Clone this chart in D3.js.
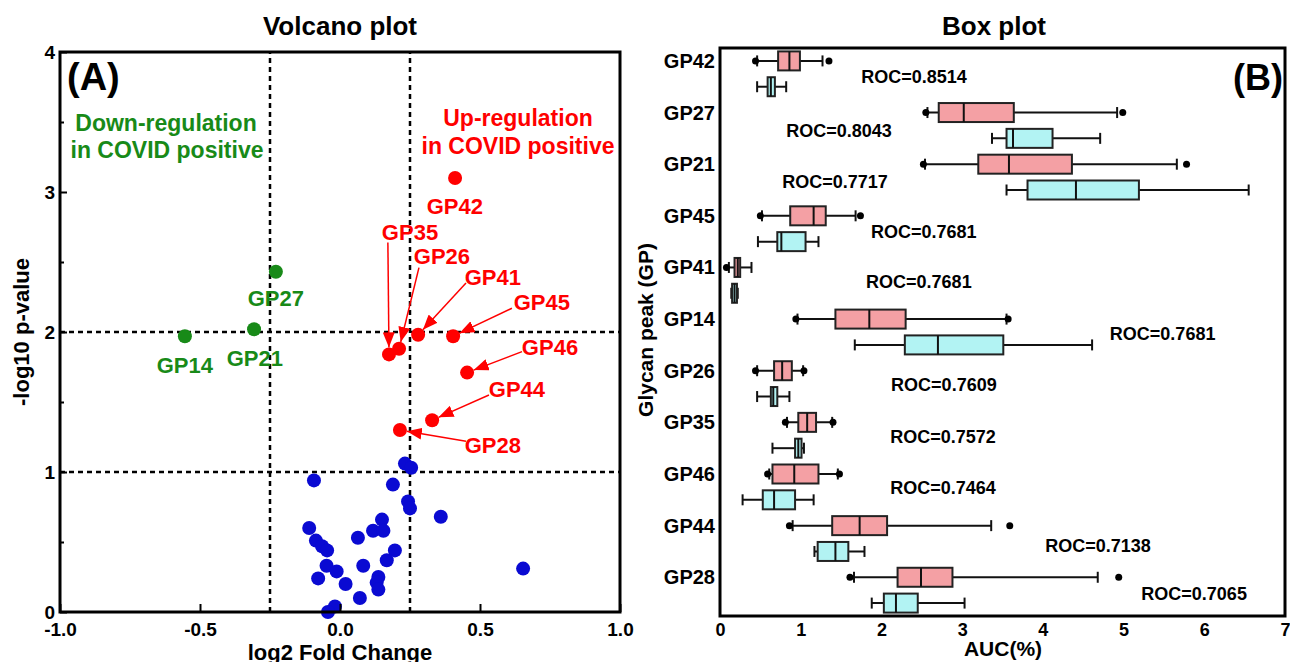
<!DOCTYPE html>
<html>
<head>
<meta charset="utf-8">
<script src="https://cdn.jsdelivr.net/npm/d3@7"></script>
<style>
  body { margin: 0; background: #fff; }
  svg text { font-family: "Liberation Sans", Arial, sans-serif; font-weight: bold; }
</style>
</head>
<body>
<svg id="chart" width="1290" height="662"></svg>
<script>
// ---- volcano plot data ----
const upPeaks = ["GP42", "GP35", "GP26", "GP41", "GP45", "GP46", "GP44", "GP28"];
const upFold  = [0.411, 0.175, 0.211, 0.279, 0.404, 0.454, 0.329, 0.214];
const upLogP  = [3.10, 1.84, 1.88, 1.98, 1.97, 1.71, 1.37, 1.30];

const downPeaks = ["GP27", "GP21", "GP14"];
const downFold  = [-0.229, -0.307, -0.554];
const downLogP  = [2.43, 2.02, 1.97];

const otherFold = [0.232, 0.254, -0.093, 0.189, 0.243, 0.250, 0.360, -0.110, 0.150, 0.118,
                   0.155, 0.064, -0.086, -0.064, -0.046, 0.196, 0.167, -0.048, 0.083, -0.012,
                   -0.078, 0.137, 0.131, 0.137, 0.020, 0.071, -0.018, -0.043, 0.654];
const otherLogP = [1.06, 1.03, 0.94, 0.91, 0.79, 0.74, 0.68, 0.60, 0.66, 0.58,
                   0.58, 0.53, 0.51, 0.47, 0.44, 0.44, 0.37, 0.33, 0.33, 0.29,
                   0.24, 0.25, 0.21, 0.16, 0.20, 0.10, 0.04, 0.00, 0.31];

const foldCut = [-0.25, 0.25];
const pCut = [1, 2];

// where the peak names sit (in data units), and where their arrows start
const upLabelX   = [0.410, 0.250, 0.364, 0.546, 0.721, 0.750, 0.632, 0.546];
const upLabelY   = [2.90, 2.71, 2.54, 2.39, 2.21, 1.89, 1.59, 1.19];
const arrowFromX = [null, 0.171, 0.282, 0.450, 0.614, 0.650, 0.532, 0.450];
const arrowFromY = [null, 2.64, 2.46, 2.35, 2.17, 1.86, 1.55, 1.22];
const downLabelX = [-0.229, -0.304, -0.554];
const downLabelY = [2.24, 1.81, 1.76];

// ---- box plot data (AUC %) : [min, q1, median, q3, max] ----
const peaks = ["GP42", "GP27", "GP21", "GP45", "GP41", "GP14", "GP26", "GP35", "GP46", "GP44", "GP28"];
const posStats = [
  [0.46, 0.72, 0.86, 0.99, 1.27],
  [2.57, 2.71, 3.02, 3.64, 4.92],
  [2.54, 3.20, 3.58, 4.36, 5.66],
  [0.52, 0.87, 1.16, 1.31, 1.68],
  [0.11, 0.18, 0.22, 0.25, 0.39],
  [0.96, 1.43, 1.85, 2.30, 3.55],
  [0.46, 0.67, 0.77, 0.89, 1.03],
  [0.83, 0.97, 1.08, 1.19, 1.39],
  [0.61, 0.65, 0.92, 1.22, 1.46],
  [0.90, 1.39, 1.73, 2.07, 3.36],
  [1.66, 2.20, 2.49, 2.88, 4.68]
];
const posOutliers = [[0.44, 1.35], [2.55, 4.99], [2.52, 5.78], [0.50, 1.74], [0.08], [0.94, 3.57],
                     [0.44, 1.04], [0.81, 1.40], [0.59, 1.48], [0.86, 3.59], [1.61, 4.94]];
const negStats = [
  [0.46, 0.59, 0.63, 0.68, 0.82],
  [3.37, 3.55, 3.63, 4.12, 4.71],
  [3.55, 3.81, 4.41, 5.19, 6.55],
  [0.47, 0.71, 0.76, 1.06, 1.22],
  [0.14, 0.15, 0.18, 0.21, 0.22],
  [1.67, 2.29, 2.70, 3.51, 4.61],
  [0.46, 0.63, 0.66, 0.71, 0.86],
  [0.65, 0.93, 0.97, 1.01, 1.04],
  [0.28, 0.53, 0.67, 0.93, 1.16],
  [1.17, 1.21, 1.43, 1.59, 1.79],
  [1.88, 2.03, 2.18, 2.45, 3.03]
];
const roc = [0.8514, 0.8043, 0.7717, 0.7681, 0.7681, 0.7681, 0.7609, 0.7572, 0.7464, 0.7138, 0.7065];
// ROC label spots: left edge in AUC units, fraction down the category band
const rocLabelX = [1.75, 0.82, 0.77, 1.87, 1.81, 4.83, 2.12, 2.11, 2.11, 4.03, 5.22];
const rocLabelY = [0.57, 0.61, 0.60, 0.57, 0.54, 0.54, 0.53, 0.54, 0.53, 0.65, 0.58];

const RED = "#ff0000", GREEN = "#188a18", BLUE = "#0a0ad2";
const PINK = "#f4a0a4", CYAN = "#b2f3f3";

const svg = d3.select("#chart");

// =================== (A) volcano ===================
const x = d3.scaleLinear().domain([-1, 1]).range([60, 620]);
const y = d3.scaleLinear().domain([0, 4]).range([612, 52]);

svg.append("defs").append("marker")
   .attr("id", "head")
   .attr("markerUnits", "userSpaceOnUse")
   .attr("markerWidth", 15).attr("markerHeight", 12)
   .attr("refX", 15).attr("refY", 6)
   .attr("orient", "auto")
   .append("path").attr("d", "M0,0L15,6L0,12Z").attr("fill", RED);

const va = svg.append("g");

foldCut.forEach(v => {
  va.append("line")
    .attr("x1", x(v)).attr("x2", x(v)).attr("y1", y(0)).attr("y2", y(4))
    .attr("stroke", "#000").attr("stroke-width", 2.5).attr("stroke-dasharray", "5,4");
});
pCut.forEach(v => {
  va.append("line")
    .attr("x1", x(-1)).attr("x2", x(1)).attr("y1", y(v)).attr("y2", y(v))
    .attr("stroke", "#000").attr("stroke-width", 2.5).attr("stroke-dasharray", "5,4");
});

va.append("g").selectAll("circle").data(otherFold).join("circle")
  .attr("cx", d => x(d)).attr("cy", (d, i) => y(otherLogP[i]))
  .attr("r", 7).attr("fill", BLUE);

va.append("g").selectAll("circle").data(downFold).join("circle")
  .attr("cx", d => x(d)).attr("cy", (d, i) => y(downLogP[i]))
  .attr("r", 7).attr("fill", GREEN);

va.append("g").selectAll("circle").data(upFold).join("circle")
  .attr("cx", d => x(d)).attr("cy", (d, i) => y(upLogP[i]))
  .attr("r", 7).attr("fill", RED);

// arrows from the labels to their points
upPeaks.forEach((p, i) => {
  if (arrowFromX[i] === null) return;
  const x0 = x(arrowFromX[i]), y0 = y(arrowFromY[i]);
  const x1 = x(upFold[i]), y1 = y(upLogP[i]);
  const len = Math.hypot(x1 - x0, y1 - y0);
  va.append("line")
    .attr("x1", x0).attr("y1", y0)
    .attr("x2", x1 - (x1 - x0) / len * 7).attr("y2", y1 - (y1 - y0) / len * 7)
    .attr("stroke", RED).attr("stroke-width", 1.5)
    .attr("marker-end", "url(#head)");
});

va.append("g").selectAll("text").data(upPeaks).join("text")
  .attr("x", (d, i) => x(upLabelX[i])).attr("y", (d, i) => y(upLabelY[i]))
  .attr("text-anchor", "middle").attr("dominant-baseline", "central")
  .attr("font-size", 22).attr("fill", RED).text(d => d);

va.append("g").selectAll("text").data(downPeaks).join("text")
  .attr("x", (d, i) => x(downLabelX[i])).attr("y", (d, i) => y(downLabelY[i]))
  .attr("text-anchor", "middle").attr("dominant-baseline", "central")
  .attr("font-size", 22).attr("fill", GREEN).text(d => d);

// axes, ticks pointing inward
const vx = va.append("g").attr("transform", `translate(0,${y(0)})`)
  .call(d3.axisBottom(x).tickValues([-1, -0.5, 0, 0.5, 1]).tickFormat(d => d.toFixed(1))
          .tickSize(-8).tickPadding(11));
const vy = va.append("g").attr("transform", `translate(${x(-1)},0)`)
  .call(d3.axisLeft(y).tickValues([0, 1, 2, 3, 4]).tickFormat(d3.format("d"))
          .tickSize(-7).tickPadding(5));
va.append("g").attr("transform", `translate(${x(-1)},0)`)
  .call(d3.axisLeft(y).tickValues([0.5, 1.5, 2.5, 3.5]).tickFormat("").tickSize(-4));

va.append("rect")
  .attr("x", x(-1)).attr("y", y(4)).attr("width", x(1) - x(-1)).attr("height", y(0) - y(4))
  .attr("fill", "none").attr("stroke", "#000").attr("stroke-width", 3);

va.append("text").attr("x", 340).attr("y", 35).attr("text-anchor", "middle")
  .attr("font-size", 26).text("Volcano plot");
va.append("text").attr("x", 67).attr("y", 90).attr("font-size", 38).text("(A)");
va.append("text").attr("x", 166).attr("y", 131).attr("text-anchor", "middle")
  .attr("font-size", 23).attr("fill", GREEN).text("Down-regulation");
va.append("text").attr("x", 167).attr("y", 158).attr("text-anchor", "middle")
  .attr("font-size", 23).attr("fill", GREEN).text("in COVID positive");
va.append("text").attr("x", 518).attr("y", 126).attr("text-anchor", "middle")
  .attr("font-size", 23).attr("fill", RED).text("Up-regulation");
va.append("text").attr("x", 518).attr("y", 154).attr("text-anchor", "middle")
  .attr("font-size", 23).attr("fill", RED).text("in COVID positive");
va.append("text").attr("x", 340).attr("y", 660).attr("text-anchor", "middle")
  .attr("font-size", 22).text("log2 Fold Change");
va.append("text").attr("transform", "translate(21,332) rotate(-90)")
  .attr("text-anchor", "middle").attr("dominant-baseline", "central")
  .attr("font-size", 22).text("-log10 p-value");

// =================== (B) box plot ===================
const bx = d3.scaleLinear().domain([0, 7]).range([720, 1285]);
const band = d3.scaleBand().domain(peaks).range([48, 616]);
const sub = d3.scalePoint().domain(["pos", "neg"]).range([0, band.step()]).padding(0.5);
const BOX_H = 19, CAP_H = 11;

const vb = svg.append("g");

const drawBox = (stats, yc, fill) => {
  const g = vb.append("g");
  g.append("line").attr("x1", bx(stats[0])).attr("x2", bx(stats[4]))
    .attr("y1", yc).attr("y2", yc).attr("stroke", "#111").attr("stroke-width", 2);
  [stats[0], stats[4]].forEach(v => {
    g.append("line").attr("x1", bx(v)).attr("x2", bx(v))
      .attr("y1", yc - CAP_H / 2).attr("y2", yc + CAP_H / 2)
      .attr("stroke", "#111").attr("stroke-width", 2);
  });
  g.append("rect").attr("x", bx(stats[1])).attr("y", yc - BOX_H / 2)
    .attr("width", bx(stats[3]) - bx(stats[1])).attr("height", BOX_H)
    .attr("fill", fill).attr("stroke", "#222").attr("stroke-width", 2);
  g.append("line").attr("x1", bx(stats[2])).attr("x2", bx(stats[2]))
    .attr("y1", yc - BOX_H / 2).attr("y2", yc + BOX_H / 2)
    .attr("stroke", "#111").attr("stroke-width", 2);
};

peaks.forEach((p, i) => {
  const yPos = band(p) + sub("pos");
  const yNeg = band(p) + sub("neg");
  drawBox(posStats[i], yPos, PINK);
  drawBox(negStats[i], yNeg, CYAN);
  posOutliers[i].forEach(v => {
    vb.append("circle").attr("cx", bx(v)).attr("cy", yPos).attr("r", 3.5).attr("fill", "#000");
  });
});

vb.append("g").selectAll("text").data(peaks).join("text")
  .attr("x", 715).attr("y", d => band(d) + sub("pos"))
  .attr("text-anchor", "end").attr("dominant-baseline", "central")
  .attr("font-size", 20).text(d => d);

vb.append("g").selectAll("text").data(roc).join("text")
  .attr("x", (d, i) => bx(rocLabelX[i]))
  .attr("y", (d, i) => band(peaks[i]) + band.step() * rocLabelY[i])
  .attr("dominant-baseline", "central")
  .attr("font-size", 18).text(d => "ROC=" + d.toFixed(4));

vb.append("g").attr("transform", `translate(0,616)`)
  .call(d3.axisBottom(bx).ticks(7).tickFormat(d3.format("d")).tickSize(0).tickPadding(7));

vb.append("rect")
  .attr("x", bx(0)).attr("y", 48).attr("width", bx(7) - bx(0)).attr("height", 616 - 48)
  .attr("fill", "none").attr("stroke", "#000").attr("stroke-width", 3);

vb.append("text").attr("x", 994).attr("y", 35).attr("text-anchor", "middle")
  .attr("font-size", 26).text("Box plot");
vb.append("text").attr("x", 1283).attr("y", 90).attr("text-anchor", "end")
  .attr("font-size", 36).text("(B)");
vb.append("text").attr("x", 1003).attr("y", 656).attr("text-anchor", "middle")
  .attr("font-size", 21).text("AUC(%)");
vb.append("text").attr("transform", "translate(645,330) rotate(-90)")
  .attr("text-anchor", "middle").attr("dominant-baseline", "central")
  .attr("font-size", 21).text("Glycan peak (GP)");

// axis styling
svg.selectAll(".domain").remove();
svg.selectAll(".tick line").attr("stroke", "#000").attr("stroke-width", 2);
vx.selectAll(".tick text").attr("font-size", 19).attr("fill", "#000");
vy.selectAll(".tick text").attr("font-size", 19).attr("fill", "#000");
vb.selectAll(".tick text").attr("font-size", 18).attr("fill", "#000");
</script>
</body>
</html>
